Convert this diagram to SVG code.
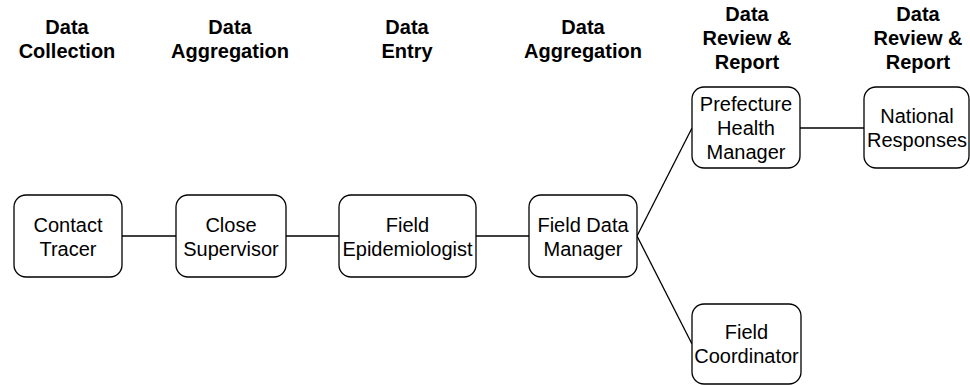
<svg xmlns="http://www.w3.org/2000/svg" width="970" height="385" viewBox="0 0 970 385">
<style>
.hdr{font-family:"Liberation Sans",Arial,sans-serif;font-size:20px;font-weight:bold;fill:#000;text-anchor:middle}
.box{fill:#fff;stroke:#000;stroke-width:1.3}
.lbl{font-family:"Liberation Sans",Arial,sans-serif;font-size:20px;fill:#000;text-anchor:middle}
.edge{stroke:#000;stroke-width:1.3;fill:none}
</style>
<rect width="970" height="385" fill="#fff"/>
<g id="headers">
<text class="hdr" x="67" y="34">Data</text><text class="hdr" x="67" y="58">Collection</text>
<text class="hdr" x="230" y="34">Data</text><text class="hdr" x="230" y="58">Aggregation</text>
<text class="hdr" x="407" y="34">Data</text><text class="hdr" x="407" y="58">Entry</text>
<text class="hdr" x="583" y="34">Data</text><text class="hdr" x="583" y="58">Aggregation</text>
<text class="hdr" x="747" y="21">Data</text><text class="hdr" x="747" y="45">Review &amp;</text><text class="hdr" x="747" y="69">Report</text>
<text class="hdr" x="918" y="21">Data</text><text class="hdr" x="918" y="45">Review &amp;</text><text class="hdr" x="918" y="69">Report</text>
</g>
<g id="connectors">
<line class="edge" x1="122" y1="236" x2="176" y2="236"/>
<line class="edge" x1="286" y1="236" x2="339" y2="236"/>
<line class="edge" x1="476" y1="236" x2="529" y2="236"/>
<line class="edge" x1="637" y1="236" x2="692" y2="128"/>
<line class="edge" x1="637" y1="236" x2="692" y2="344"/>
<line class="edge" x1="800" y1="128" x2="864" y2="128"/>
</g>
<g id="contact-tracer">
<rect class="box" x="14" y="195" width="108" height="82" rx="12"/>
<text class="lbl" x="68" y="232">Contact</text><text class="lbl" x="68" y="256">Tracer</text>
</g>
<g id="close-supervisor">
<rect class="box" x="176" y="195" width="110" height="82" rx="12"/>
<text class="lbl" x="231" y="232">Close</text><text class="lbl" x="231" y="256">Supervisor</text>
</g>
<g id="field-epidemiologist">
<rect class="box" x="339" y="195" width="137" height="82" rx="12"/>
<text class="lbl" x="407.5" y="232">Field</text><text class="lbl" x="407.5" y="256">Epidemiologist</text>
</g>
<g id="field-data-manager">
<rect class="box" x="529" y="195" width="108" height="82" rx="12"/>
<text class="lbl" x="583" y="232">Field Data</text><text class="lbl" x="583" y="256">Manager</text>
</g>
<g id="prefecture-health-manager">
<rect class="box" x="692" y="87" width="108" height="81" rx="12"/>
<text class="lbl" x="746" y="111">Prefecture</text><text class="lbl" x="746" y="135">Health</text><text class="lbl" x="746" y="159">Manager</text>
</g>
<g id="national-responses">
<rect class="box" x="864" y="87" width="105" height="81" rx="12"/>
<text class="lbl" x="917" y="123">National</text><text class="lbl" x="917" y="147">Responses</text>
</g>
<g id="field-coordinator">
<rect class="box" x="692" y="304" width="109" height="80" rx="12"/>
<text class="lbl" x="746.5" y="339">Field</text><text class="lbl" x="746.5" y="363">Coordinator</text>
</g>
</svg>
